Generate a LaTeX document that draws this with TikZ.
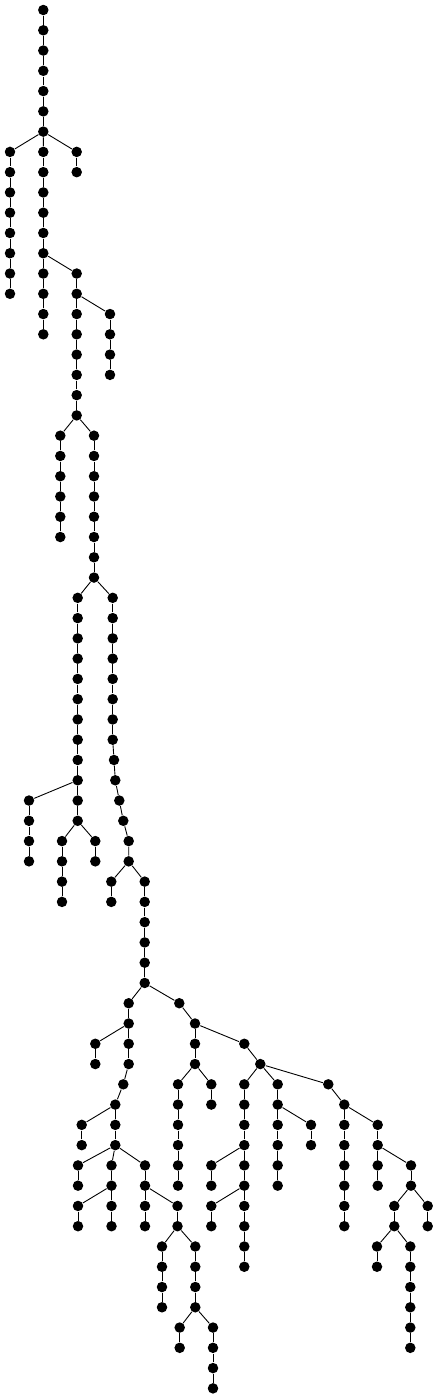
\documentclass[tikz,border=0pt]{standalone}
\tikzset{vtx/.style={circle,fill=black,inner sep=0pt,minimum size=10.5pt}}
% a vertical run of vertices: prefix, x, first row, last row
\newcommand\vchain[4]{%
  \foreach \r in {#3,...,#4}{
    \node[vtx] (#1\r) at (#2,{-10-20.27*\r}) {};
    \ifnum\r>#3 \pgfmathtruncatemacro\q{\r-1}\draw (#1\q) -- (#1\r);\fi
  }}
\begin{document}
\begin{tikzpicture}[x=1pt,y=1pt,line width=0.9pt]
  \useasboundingbox (0,0) rectangle (438,-1398);
  % upper part
  \vchain{a}{43.3}{0}{6}
  \vchain{b}{10}{7}{14}
  \vchain{c}{43.3}{7}{16}
  \vchain{d}{76.7}{7}{8}
  \vchain{e}{76.7}{13}{20}
  \vchain{f}{110}{15}{18}
  \vchain{g}{60.3}{21}{26}
  \vchain{h}{94}{21}{28}
  \draw (a6) -- (b7) (a6) -- (c7) (a6) -- (d7);
  \draw (c12) -- (e13) (e14) -- (f15) (e20) -- (g21) (e20) -- (h21);
  % middle part
  \vchain{i}{77.7}{29}{40}
  \vchain{j}{112.7}{29}{36}
  \foreach \x/\r in {114/37,115.3/38,119.3/39,123.3/40,128.7/41,128.7/42}
    \node[vtx] (j\r) at (\x,{-10-20.27*\r}) {};
  \draw (j36) -- (j37) -- (j38) -- (j39) -- (j40) -- (j41) -- (j42);
  \vchain{k}{29}{39}{42}
  \vchain{l}{62}{41}{44}
  \vchain{m}{95.3}{41}{42}
  \vchain{n}{111.3}{43}{44}
  \vchain{o}{144.7}{43}{48}
  \draw (h28) -- (i29) (h28) -- (j29) (i38) -- (k39) (i40) -- (l41) (i40) -- (m41);
  \draw (j42) -- (n43) (j42) -- (o43);
  % lower left
  \vchain{p}{128.7}{49}{52}
  \vchain{p}{123.3}{53}{53}
  \vchain{p}{115.3}{54}{56}
  \draw (p52) -- (p53) -- (p54);
  \vchain{q}{179.3}{49}{49}
  \vchain{q}{195}{50}{52}
  \draw (q49) -- (q50);
  \vchain{r}{95.3}{51}{52}
  \vchain{s}{81.7}{55}{56}
  \vchain{t}{78}{57}{58}
  \vchain{u}{111.5}{57}{60}
  \vchain{v}{145}{57}{60}
  \vchain{w}{78}{59}{60}
  \vchain{bx}{177.5}{59}{60}
  \vchain{by}{162}{61}{64}
  \vchain{bz}{195.3}{61}{64}
  \vchain{ba}{179.7}{65}{66}
  \vchain{bb}{213}{65}{68}
  \draw (o48) -- (p49) (o48) -- (q49) (p50) -- (r51) (p54) -- (s55);
  \draw (p56) -- (t57) (p56) -- (u57) (p56) -- (v57) (u58) -- (w59) (v58) -- (bx59);
  \draw (bx60) -- (by61) (bx60) -- (bz61) (bz64) -- (ba65) (bz64) -- (bb65);
  % lower right
  \vchain{ca}{178}{53}{58}
  \vchain{cb}{211.3}{53}{54}
  \vchain{cc}{244.3}{51}{51}
  \vchain{cc}{260.3}{52}{52}
  \draw (cc51) -- (cc52);
  \vchain{cd}{244.3}{53}{62}
  \vchain{ce}{277.7}{53}{58}
  \vchain{cf}{328.3}{53}{53}
  \vchain{cf}{344.3}{54}{60}
  \draw (cf53) -- (cf54);
  \vchain{cg}{211.3}{57}{58}
  \vchain{ch}{211.3}{59}{60}
  \vchain{ci}{311}{55}{56}
  \vchain{cj}{377.7}{55}{58}
  \vchain{ck}{411}{57}{58}
  \vchain{cl}{394.3}{59}{60}
  \vchain{cm}{427.7}{59}{60}
  \vchain{cn}{377}{61}{62}
  \vchain{co}{410.3}{61}{66}
  \draw (q52) -- (ca53) (q52) -- (cb53) (q50) -- (cc51);
  \draw (cc52) -- (cd53) (cc52) -- (ce53) (cc52) -- (cf53);
  \draw (cd56) -- (cg57) (cd58) -- (ch59) (ce54) -- (ci55) (cf54) -- (cj55);
  \draw (cj56) -- (ck57) (ck58) -- (cl59) (ck58) -- (cm59) (cl60) -- (cn61) (cl60) -- (co61);
\end{tikzpicture}
\end{document}
